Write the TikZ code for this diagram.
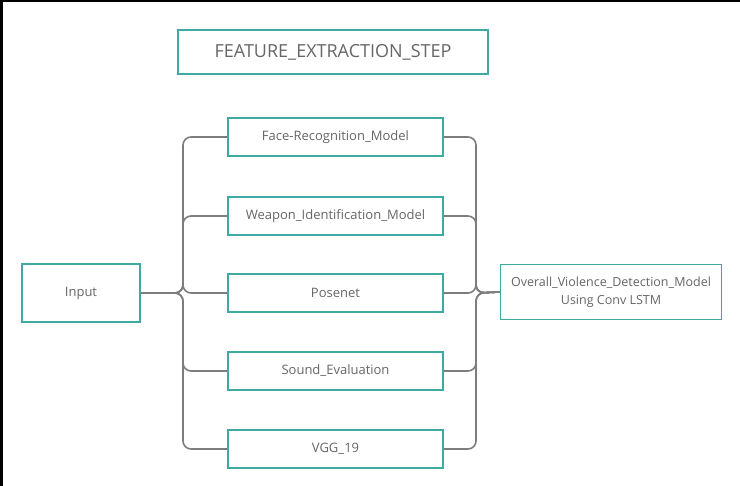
\documentclass[tikz,border=0pt]{standalone}
\usepackage{fontspec}
\setmainfont{Open Sans}
\usepackage{tikz}
\usetikzlibrary{positioning,calc}
\definecolor{boxteal}{HTML}{3FAAA4}
\definecolor{linkgray}{HTML}{7D7D7D}
\definecolor{txtgray}{HTML}{666666}

\begin{document}
\begin{tikzpicture}[x=1pt,y=-1pt,font=\fontsize{13}{18}\selectfont,text=txtgray,
  box/.style={draw=boxteal,line width=1.6pt,fill=white,align=center,inner sep=0pt},
  model/.style={box,minimum width=215pt,minimum height=38pt},
  link/.style={draw=linkgray,line width=1.6pt,rounded corners=8pt}]
  \useasboundingbox (0,0) rectangle (740,486);
  \fill[white] (0,0) rectangle (740,486);
  % scan edges
  \fill[black] (0,0) rectangle (740,2);
  \fill[black] (0,0) rectangle (3,486);
  \node[box,minimum width=310pt,minimum height=44pt,font=\fontsize{18}{20}\selectfont] (title) at (333,52) {FEATURE\_EXTRACTION\_STEP};
  \node[box,minimum width=118pt,minimum height=58pt] (in) at (81,293) {Input};
  \node[box,minimum width=221pt,minimum height=55pt,font=\fontsize{12.5}{18}\selectfont] (out) at (611,292) {Overall\_Violence\_Detection\_Model\\Using Conv LSTM};
  \coordinate (lbus) at (183,293);
  \coordinate (rbus) at (476,293);
  \foreach \nm/\yy/\lab in {face/137/Face-Recognition\_Model, weapon/216/Weapon\_Identification\_Model, pose/293/Posenet, sound/371/Sound\_Evaluation, vgg/449/VGG\_19}{
    \node[model] (\nm) at (335.5,\yy) {\lab};
    \draw[link] (in.east) -- (in.east -| lbus) |- (\nm.west);
    \draw[link] (\nm.east) -| (rbus) -- (out.west);
  }
\end{tikzpicture}
\end{document}
